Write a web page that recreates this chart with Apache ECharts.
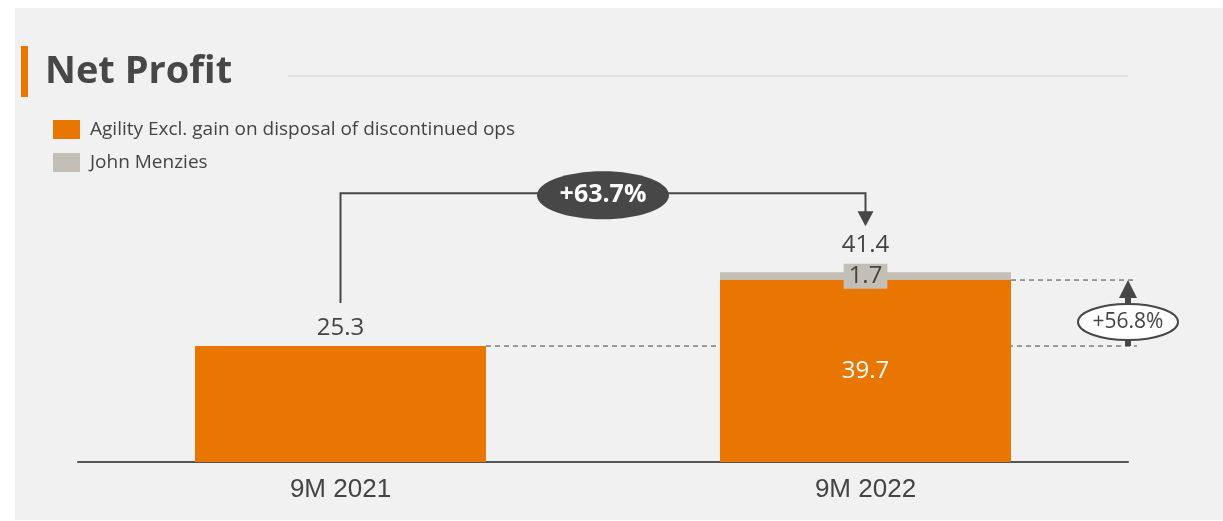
<!DOCTYPE html>
<html><head><meta charset="utf-8">
<script src="https://cdn.jsdelivr.net/npm/echarts@6/dist/echarts.min.js"></script>
<style>html,body{margin:0;padding:0;background:#fff;}#c{width:1223px;height:521px;}</style>
</head><body><div id="c"></div>
<script>
const chartTitle = 'Net Profit';
const categories = ['9M 2021', '9M 2022'];
const seriesNames = ['Agility Excl. gain on disposal of discontinued ops', 'John Menzies'];
const agility = [25.3, 39.7];
const menzies = [null, 1.7];
const totals = [25.3, 41.4];
const growthTotal = '+63.7%';
const growthAgility = '+56.8%';

const ORANGE = '#e87600', GREY = '#c4bfb6', DARK = '#474747';
const FONT = '"Open Sans","Noto Sans",sans-serif';
const BARW = 291;

const chart = echarts.init(document.getElementById('c'), null, {renderer: 'canvas'});
const option = {
  animation: false,
  backgroundColor: '#ffffff',
  grid: {left: 78, right: 95, top: 187, bottom: 59, containLabel: false},
  legend: {
    data: seriesNames, orient: 'vertical', left: 53, top: 120, padding: 0,
    itemWidth: 27, itemHeight: 19, itemGap: 14, icon: 'rect',
    textStyle: {fontSize: 19, color: '#444', fontFamily: FONT, padding: [0, 0, 0, 5]},
    selectedMode: false
  },
  xAxis: {
    type: 'category', data: categories,
    axisLine: {lineStyle: {color: '#555', width: 2}},
    axisTick: {show: false},
    axisLabel: {fontSize: 26, color: '#444', margin: 15, fontFamily: '"Liberation Sans",Arial,sans-serif'}
  },
  yAxis: {type: 'value', min: 0, max: 60, show: false, splitLine: {show: false}},
  series: [
    {
      name: seriesNames[0], type: 'bar', stack: 's', barWidth: BARW,
      itemStyle: {color: ORANGE},
      data: agility.map((v, i) => ({value: v, label: {show: i === 1}})),
      label: {position: 'inside', color: '#fff', fontSize: 24, fontFamily: FONT}
    },
    {
      name: seriesNames[1], type: 'bar', stack: 's', barWidth: BARW,
      itemStyle: {color: GREY},
      data: menzies.map(v => ({value: v == null ? 0 : v, label: {show: v != null}})),
      label: {position: 'inside', color: '#444', fontSize: 24, fontFamily: FONT,
        backgroundColor: GREY, padding: [1, 5, 0, 5]}
    },
    {
      name: 'total', type: 'bar', stack: 's', barWidth: BARW,
      itemStyle: {color: 'rgba(0,0,0,0)'},
      data: totals.map((v, i) => ({value: 0, label: {distance: i === 0 ? 6 : 15}})),
      label: {show: true, position: 'top', color: '#444', fontSize: 24, fontFamily: FONT,
        formatter: p => totals[p.dataIndex].toFixed(1)}
    }
  ]
};
chart.setOption(option);

const p21 = chart.convertToPixel({gridIndex: 0}, [0, totals[0]]);
const p22 = chart.convertToPixel({gridIndex: 0}, [1, totals[1]]);
const pA21 = chart.convertToPixel({gridIndex: 0}, [0, agility[0]]);
const pA22 = chart.convertToPixel({gridIndex: 0}, [1, agility[1]]);
const xA = p22[0] + (p22[0] - p21[0]) / 2;
const yTop = p22[1] - 79;
const midX = (p21[0] + p22[0]) / 2;
const yLow = pA21[1], yHigh = pA22[1];

const graphics = [
  {type: 'rect', z: -10, silent: true, shape: {x: 15, y: 8, width: 1208, height: 512}, style: {fill: '#f1f1f1'}},
  {type: 'rect', shape: {x: 21, y: 46, width: 7, height: 51}, style: {fill: ORANGE}},
  {type: 'text', x: 45, y: 72, style: {text: chartTitle, font: 'bold 38px ' + FONT, fill: '#474747', textVerticalAlign: 'middle'}},
  {type: 'line', shape: {x1: 288, y1: 76, x2: 1128, y2: 76}, style: {stroke: '#dcdcdc', lineWidth: 1.5}},
  // bracket total growth
  {type: 'polyline', shape: {points: [[p21[0], p21[1] - 43], [p21[0], yTop], [p22[0], yTop], [p22[0], p22[1] - 60]]},
    style: {stroke: DARK, lineWidth: 2, fill: null}},
  {type: 'polygon', shape: {points: [[p22[0] - 8, p22[1] - 61], [p22[0] + 8, p22[1] - 61], [p22[0], p22[1] - 46]]}, style: {fill: DARK}},
  {type: 'ellipse', shape: {cx: midX, cy: yTop + 2, rx: 66, ry: 24}, style: {fill: DARK}},
  {type: 'text', x: midX, y: yTop + 2, style: {text: growthTotal, font: 'bold 25px ' + FONT, fill: '#fff', textAlign: 'center', textVerticalAlign: 'middle'}},
  // dashed reference lines
  {type: 'line', shape: {x1: pA21[0] + BARW / 2, y1: yLow, x2: xA + 9, y2: yLow}, style: {stroke: '#444', lineWidth: 1, lineDash: [5, 4]}},
  {type: 'line', shape: {x1: pA22[0] + BARW / 2, y1: yHigh, x2: xA + 9, y2: yHigh}, style: {stroke: '#444', lineWidth: 1, lineDash: [5, 4]}},
  // vertical arrow
  {type: 'rect', shape: {x: xA - 3, y: yHigh + 16, width: 6, height: yLow - yHigh - 16}, style: {fill: DARK}},
  {type: 'polygon', shape: {points: [[xA - 9, yHigh + 18], [xA + 9, yHigh + 18], [xA, yHigh]]}, style: {fill: DARK}},
  {type: 'ellipse', shape: {cx: xA, cy: yLow - 24, rx: 50, ry: 18}, style: {fill: '#fff', stroke: DARK, lineWidth: 2}},
  {type: 'text', x: xA, y: yLow - 24, style: {text: growthAgility, font: '21px ' + FONT, fill: '#444', textAlign: 'center', textVerticalAlign: 'middle'}}
];
chart.setOption({graphic: graphics});
</script></body></html>
